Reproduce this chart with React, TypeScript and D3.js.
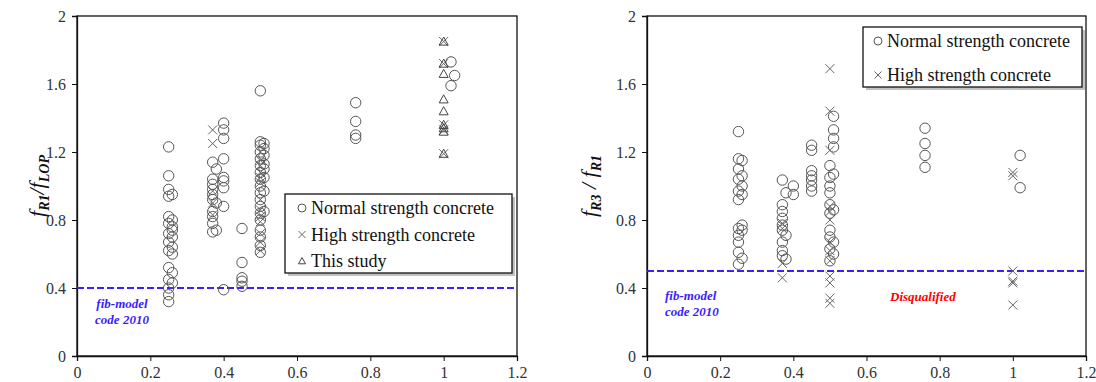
import React, { useEffect, useRef } from 'react';
import * as d3 from 'd3';

type Pt = [number, number];

// left panel: fR1 / fLOP
const leftNormal: Pt[] = [
  [0.25, 1.23], [0.25, 1.06], [0.25, 0.98], [0.25, 0.94], [0.25, 0.82], [0.25, 0.78], [0.25, 0.72],
  [0.25, 0.67], [0.25, 0.62], [0.25, 0.52], [0.25, 0.45], [0.25, 0.40], [0.25, 0.36], [0.25, 0.32],
  [0.26, 0.95], [0.26, 0.80], [0.26, 0.76], [0.26, 0.74], [0.26, 0.70], [0.26, 0.64], [0.26, 0.60],
  [0.26, 0.49], [0.26, 0.43],
  [0.37, 1.14], [0.37, 1.04], [0.37, 1.01], [0.37, 0.98], [0.37, 0.95], [0.37, 0.92], [0.37, 0.85],
  [0.37, 0.82], [0.37, 0.78], [0.37, 0.73], [0.38, 1.10], [0.38, 0.90], [0.38, 0.74],
  [0.40, 1.37], [0.40, 1.33], [0.40, 1.28], [0.40, 1.16], [0.40, 1.05], [0.40, 1.03], [0.40, 0.99],
  [0.40, 0.88], [0.40, 0.39],
  [0.45, 0.75], [0.45, 0.55], [0.45, 0.46], [0.45, 0.44], [0.45, 0.41],
  [0.50, 1.56], [0.50, 1.26], [0.50, 1.24], [0.50, 1.20], [0.50, 1.16], [0.50, 1.12], [0.50, 1.08],
  [0.50, 1.04], [0.50, 1.00], [0.50, 0.96], [0.50, 0.92], [0.50, 0.88], [0.50, 0.84], [0.50, 0.80],
  [0.50, 0.74], [0.50, 0.70], [0.50, 0.65], [0.50, 0.61],
  [0.51, 1.25], [0.51, 1.22], [0.51, 1.18], [0.51, 1.13], [0.51, 1.10], [0.51, 1.05], [0.51, 0.97], [0.51, 0.85],
  [0.76, 1.49], [0.76, 1.38], [0.76, 1.30], [0.76, 1.28],
  [1.02, 1.73], [1.03, 1.65], [1.02, 1.59],
];
const leftHigh: Pt[] = [
  [0.37, 1.33], [0.37, 1.25], [0.37, 0.97], [0.37, 0.90], [0.37, 0.83],
  [0.50, 1.15], [0.50, 1.12], [0.50, 1.08], [0.50, 1.05], [0.50, 1.02], [0.50, 0.92], [0.50, 0.86],
  [0.50, 0.82], [0.50, 0.79], [0.50, 0.72], [0.50, 0.67], [0.50, 0.62],
  [1.0, 1.85], [1.0, 1.72], [1.0, 1.36], [1.0, 1.33], [1.0, 1.19],
];
const leftStudy: Pt[] = [
  [1.0, 1.85], [1.0, 1.72], [1.0, 1.66], [1.0, 1.51], [1.0, 1.44], [1.0, 1.36], [1.0, 1.34], [1.0, 1.32], [1.0, 1.19],
];

// right panel: fR3 / fR1
const rightNormal: Pt[] = [
  [0.25, 1.32], [0.25, 1.16], [0.25, 1.10], [0.25, 1.04], [0.25, 0.97], [0.25, 0.92], [0.25, 0.75],
  [0.25, 0.71], [0.25, 0.67], [0.25, 0.61], [0.25, 0.54],
  [0.26, 1.15], [0.26, 1.06], [0.26, 1.00], [0.26, 0.95], [0.26, 0.77], [0.26, 0.74], [0.26, 0.575],
  [0.37, 1.035], [0.37, 0.89], [0.37, 0.85], [0.37, 0.81], [0.37, 0.77], [0.37, 0.74], [0.37, 0.67],
  [0.37, 0.62], [0.37, 0.59], [0.38, 0.96], [0.38, 0.71], [0.38, 0.57],
  [0.40, 1.0], [0.40, 0.95],
  [0.45, 1.24], [0.45, 1.21], [0.45, 1.09], [0.45, 1.06], [0.45, 1.035], [0.45, 1.0], [0.45, 0.97],
  [0.50, 1.12], [0.50, 1.05], [0.50, 1.0], [0.50, 0.96], [0.50, 0.89], [0.50, 0.84], [0.50, 0.74],
  [0.50, 0.70], [0.50, 0.63], [0.50, 0.56],
  [0.51, 1.41], [0.51, 1.33], [0.51, 1.28], [0.51, 1.23], [0.51, 1.07], [0.51, 0.86], [0.51, 0.67], [0.51, 0.60],
  [0.76, 1.34], [0.76, 1.25], [0.76, 1.18], [0.76, 1.11],
  [1.02, 1.18], [1.02, 0.99],
];
const rightHigh: Pt[] = [
  [0.37, 0.78], [0.37, 0.75], [0.37, 0.545], [0.37, 0.46],
  [0.50, 1.69], [0.50, 1.44], [0.50, 1.21], [0.50, 0.88], [0.50, 0.85], [0.50, 0.80], [0.50, 0.67],
  [0.50, 0.62], [0.50, 0.56], [0.50, 0.47], [0.50, 0.43], [0.50, 0.34], [0.50, 0.31],
  [1.0, 1.08], [1.0, 1.06], [1.0, 0.50], [1.0, 0.44], [1.0, 0.43], [1.0, 0.30],
];

const xTicks = [0, 0.2, 0.4, 0.6, 0.8, 1, 1.2];
const yTicks = [0, 0.4, 0.8, 1.2, 1.6, 2];
const leftLimit = 0.4;
const rightLimit = 0.5;

const SERIF = "'Liberation Serif', 'Times New Roman', Tinos, 'DejaVu Serif', serif";
const BLUE = '#3a1eff';

function serif(sel: any, size: number) {
  return sel.style('font-family', SERIF).style('font-size', size + 'px');
}

function drawCircle(g: any, cx: number, cy: number, r: number) {
  g.append('circle').attr('cx', cx).attr('cy', cy).attr('r', r)
    .attr('fill', 'none').attr('stroke', '#555').attr('stroke-width', 1);
}
function drawCross(g: any, cx: number, cy: number, s: number) {
  g.append('path')
    .attr('d', `M${cx - s},${cy - s}L${cx + s},${cy + s}M${cx - s},${cy + s}L${cx + s},${cy - s}`)
    .attr('stroke', '#666').attr('stroke-width', 1).attr('fill', 'none');
}
function drawTriangle(g: any, cx: number, cy: number, s: number) {
  g.append('path')
    .attr('d', `M${cx},${cy - s}L${cx + s},${cy + s * 0.8}L${cx - s},${cy + s * 0.8}Z`)
    .attr('stroke', '#444').attr('stroke-width', 1).attr('fill', 'none');
}

function drawPanel(svg: any, opts: any) {
  const x = d3.scaleLinear().domain([0, 1.2]).range([opts.x0, opts.x1]);
  const y = d3.scaleLinear().domain([0, 2]).range([356, 16]);
  const g = svg.append('g');

  // frame
  g.append('rect').attr('x', opts.x0).attr('y', 16).attr('width', opts.x1 - opts.x0).attr('height', 340)
    .attr('fill', 'none').attr('stroke', '#111').attr('stroke-width', 1.3);

  const xAxis = g.append('g').attr('transform', 'translate(0,356)')
    .call(d3.axisBottom(x).tickValues(xTicks).tickSize(5).tickPadding(6).tickFormat((d: any) => String(d)));
  const yAxis = g.append('g').attr('transform', `translate(${opts.x0},0)`)
    .call(d3.axisLeft(y).tickValues(yTicks).tickSize(5).tickPadding(6).tickFormat((d: any) => String(d)));
  [xAxis, yAxis].forEach((a: any) => {
    a.attr('font-family', null).attr('font-size', null);
    a.select('.domain').attr('stroke', '#111').attr('stroke-width', 1.3);
    a.selectAll('line').attr('stroke', '#111');
    serif(a.selectAll('text'), 16).attr('fill', '#333');
  });

  // limit line
  g.append('line').attr('x1', opts.x0).attr('x2', opts.x1)
    .attr('y1', y(opts.limit)).attr('y2', y(opts.limit))
    .attr('stroke', BLUE).attr('stroke-width', 2).attr('stroke-dasharray', '7,3');

  const marks = g.append('g');
  opts.normal.forEach((p: Pt) => drawCircle(marks, x(p[0]), y(p[1]), 5.2));
  opts.high.forEach((p: Pt) => drawCross(marks, x(p[0]), y(p[1]), 4.5));
  (opts.study || []).forEach((p: Pt) => drawTriangle(marks, x(p[0]), y(p[1]), 4.5));

  // axis title
  const t = serif(g.append('text'), 22)
    .attr('transform', `translate(${opts.labelX},186) rotate(-90)`)
    .attr('text-anchor', 'middle').style('font-style', 'italic').attr('fill', '#111');
  t.append('tspan').text('f');
  t.append('tspan').style('font-size', '14px').style('font-weight', 'bold').attr('dy', 5).text(opts.sub1);
  t.append('tspan').attr('dy', -5).text(opts.mid);
  t.append('tspan').text('f');
  t.append('tspan').style('font-size', '14px').style('font-weight', 'bold').attr('dy', 5).text(opts.sub2);

  // legend
  const L = opts.legend;
  g.append('rect').attr('x', L.x + 3).attr('y', L.y + 3).attr('width', L.w).attr('height', L.h)
    .attr('fill', '#999').attr('opacity', 0.6);
  g.append('rect').attr('x', L.x).attr('y', L.y).attr('width', L.w).attr('height', L.h)
    .attr('fill', '#fff').attr('stroke', '#111').attr('stroke-width', 1.3);
  L.items.forEach((it: any, i: number) => {
    const cy = L.y + L.first + i * L.step;
    if (it.sym === 'circle') drawCircle(g, L.x + L.sx, cy, 4);
    if (it.sym === 'cross') drawCross(g, L.x + L.sx, cy, 3.5);
    if (it.sym === 'tri') drawTriangle(g, L.x + L.sx, cy, 3.5);
    serif(g.append('text'), 18).attr('x', L.x + L.tx).attr('y', cy + 6)
      .attr('fill', '#111').text(it.label);
  });

  // fib-model note
  const note = serif(g.append('text'), 13).style('font-style', 'italic')
    .style('font-weight', 'bold').attr('fill', BLUE)
    .attr('text-anchor', opts.noteAnchor);
  note.append('tspan').attr('x', opts.noteX).attr('y', opts.noteY).text('fib-model');
  note.append('tspan').attr('x', opts.noteX).attr('y', opts.noteY + 16).text('code 2010');
  return g;
}

export default function App() {
  const ref = useRef<SVGSVGElement>(null);
  useEffect(() => {
    const svg = d3.select(ref.current);
    svg.selectAll('*').remove();
    svg.append('rect').attr('width', 1096).attr('height', 382).attr('fill', '#fff');

    drawPanel(svg, {
      x0: 77, x1: 517, limit: leftLimit,
      normal: leftNormal, high: leftHigh, study: leftStudy,
      labelX: 44, sub1: 'R1', mid: '/', sub2: 'LOP',
      noteX: 122, noteY: 308, noteAnchor: 'middle',
      legend: {
        x: 285, y: 194, w: 227, h: 79, first: 14, step: 26.5, sx: 17, tx: 26,
        items: [
          { sym: 'circle', label: 'Normal strength concrete' },
          { sym: 'cross', label: 'High strength concrete' },
          { sym: 'tri', label: 'This study' },
        ],
      },
    });

    const right = drawPanel(svg, {
      x0: 647, x1: 1086, limit: rightLimit,
      normal: rightNormal, high: rightHigh,
      labelX: 596, sub1: 'R3', mid: ' / ', sub2: 'R1',
      noteX: 665, noteY: 300, noteAnchor: 'start',
      legend: {
        x: 863, y: 27, w: 219, h: 60, first: 14, step: 34, sx: 15, tx: 24,
        items: [
          { sym: 'circle', label: 'Normal strength concrete' },
          { sym: 'cross', label: 'High strength concrete' },
        ],
      },
    });
    serif(right.append('text'), 13).attr('x', 890).attr('y', 301)
      .style('font-style', 'italic').style('font-weight', 'bold')
      .attr('fill', '#ff0000').text('Disqualified');
  }, []);

  return (
    <svg ref={ref} width={1096} height={382}
      style={{ position: 'absolute', left: 0, top: 0, display: 'block' }} />
  );
}
